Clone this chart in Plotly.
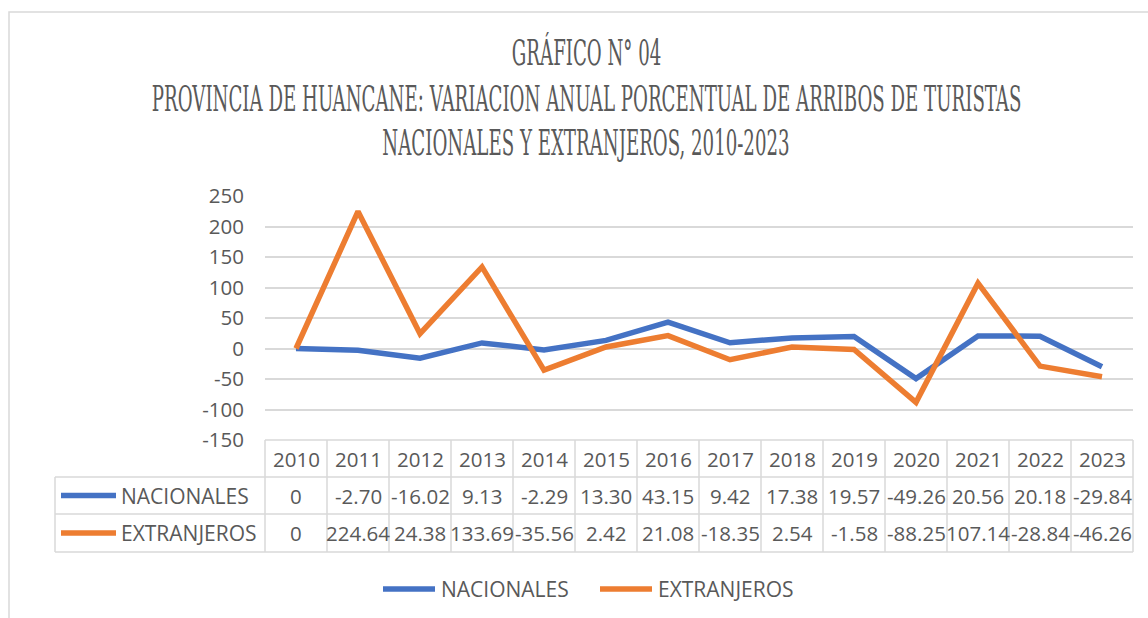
import json
import plotly.graph_objects as go

# Annual % change in tourist arrivals, Huancané province
years = [2010, 2011, 2012, 2013, 2014, 2015, 2016, 2017, 2018, 2019, 2020, 2021, 2022, 2023]
nacionales = [0, -2.70, -16.02, 9.13, -2.29, 13.30, 43.15, 9.42, 17.38, 19.57, -49.26, 20.56, 20.18, -29.84]
extranjeros = [0, 224.64, 24.38, 133.69, -35.56, 2.42, 21.08, -18.35, 2.54, -1.58, -88.25, 107.14, -28.84, -46.26]
series_names = ["NACIONALES", "EXTRANJEROS"]
series_colors = ["#4472C4", "#ED7D31"]
y_ticks = [-150, -100, -50, 0, 50, 100, 150, 200, 250]
title_lines = [
    "GRÁFICO N° 04",
    "PROVINCIA DE HUANCANE: VARIACION ANUAL PORCENTUAL DE ARRIBOS DE TURISTAS",
    "NACIONALES Y EXTRANJEROS, 2010-2023",
]

W, H = 1148, 618
L, R, T, B = 265, 15, 196, 178
PW, PH = W - L - R, H - T - B
GRID = "#D9D9D9"
TXT = "#595959"
FONT = "Open Sans"
FS = 20.5
TITLE_FONT = "DejaVu Serif Condensed"
TITLE_WIDTH = 870  # width of the longest title line, px


def px(x):
    return (x - L) / PW


def py(y):
    return (H - B - y) / PH


fig = go.Figure()
for name, vals, col in zip(series_names, [nacionales, extranjeros], series_colors):
    fig.add_trace(go.Scatter(
        x=years, y=vals, mode="lines", name=name,
        line=dict(color=col, width=5.5, shape="linear"),
        showlegend=False,
    ))

shapes = []
annotations = []

# outer chart border
shapes.append(dict(type="rect", xref="paper", yref="paper",
                   x0=px(9), x1=px(W + 20), y0=py(H + 20), y1=py(12),
                   line=dict(color=GRID, width=1.5)))

# data table grid
n = len(years)
col_w = 1.0 / n
row_edges = [440, 477, 514, 552]
for i in range(n + 1):
    shapes.append(dict(type="line", xref="paper", yref="paper",
                       x0=i * col_w, x1=i * col_w, y0=py(row_edges[0]), y1=py(row_edges[-1]),
                       line=dict(color=GRID, width=1.5)))
shapes.append(dict(type="line", xref="paper", yref="paper", x0=0, x1=1,
                   y0=py(row_edges[0]), y1=py(row_edges[0]), line=dict(color=GRID, width=1.5)))
for ry in row_edges[1:]:
    shapes.append(dict(type="line", xref="paper", yref="paper", x0=px(55), x1=1,
                       y0=py(ry), y1=py(ry), line=dict(color=GRID, width=1.5)))
shapes.append(dict(type="line", xref="paper", yref="paper", x0=px(55), x1=px(55),
                   y0=py(row_edges[1]), y1=py(row_edges[-1]), line=dict(color=GRID, width=1.5)))


def fmt(v):
    return "0" if v == 0 else f"{v:.2f}"


def label(x, y, text, xref="paper", xanchor="center", size=FS, family=FONT):
    annotations.append(dict(x=x, y=y, xref=xref, yref="paper", text=text,
                            xanchor=xanchor, yanchor="middle", showarrow=False,
                            font=dict(family=family, size=size, color=TXT)))


for yr in years:
    label(yr, py(459), str(yr), xref="x")
for r, (vals, col, name) in enumerate(zip([nacionales, extranjeros], series_colors, series_names)):
    cy = (row_edges[r + 1] + row_edges[r + 2]) / 2
    for yr, v in zip(years, vals):
        label(yr, py(cy), fmt(v), xref="x")
    shapes.append(dict(type="line", xref="paper", yref="paper", x0=px(61), x1=px(116),
                       y0=py(cy), y1=py(cy), line=dict(color=col, width=5.5)))
    label(px(119), py(cy), name, xanchor="left", size=FS + 0.5)

# bottom legend
legend_items = [(383, 435, 439), (600, 652, 656)]
for (x0, x1, tx), name, col in zip(legend_items, series_names, series_colors):
    shapes.append(dict(type="line", xref="paper", yref="paper", x0=px(x0), x1=px(x1),
                       y0=py(589), y1=py(589), line=dict(color=col, width=5.5)))
    label(px(tx), py(589), name, xanchor="left", size=FS + 0.5)

# title
for line, cy in zip(title_lines, [52, 99, 143]):
    label(px(586), py(cy), line, size=35, family=TITLE_FONT)

fig.update_layout(
    width=W, height=H,
    margin=dict(l=L, r=R, t=T, b=B),
    paper_bgcolor="white", plot_bgcolor="white",
    shapes=shapes, annotations=annotations,
    showlegend=False,
    xaxis=dict(range=[years[0] - 0.5, years[-1] + 0.5], showticklabels=False,
               showgrid=False, zeroline=False, showline=False, fixedrange=True),
    yaxis=dict(range=[y_ticks[0], y_ticks[-1]], tickvals=y_ticks,
               ticktext=[str(v) for v in y_ticks],
               showgrid=True, gridcolor=GRID, gridwidth=1.5, zeroline=False,
               showline=False, ticklabelstandoff=20,
               tickfont=dict(family=FONT, size=FS, color=TXT), fixedrange=True),
)

# condense the title lines horizontally so the longest one spans TITLE_WIDTH
post_script = """
var titles = %s;
var nodes = Array.prototype.filter.call(
    document.querySelectorAll('text.annotation-text'),
    function (t) { return titles.indexOf(t.textContent) >= 0; });
var widest = 0;
nodes.forEach(function (t) { widest = Math.max(widest, t.getBBox().width); });
var k = widest > 0 ? %d / widest : 1;
nodes.forEach(function (t) {
    t.style.transformBox = 'fill-box';
    t.style.transformOrigin = 'center';
    t.style.transform = 'scaleX(' + k + ')';
});
""" % (json.dumps(title_lines), TITLE_WIDTH)

fig.write_html("out.html", post_script=post_script)
